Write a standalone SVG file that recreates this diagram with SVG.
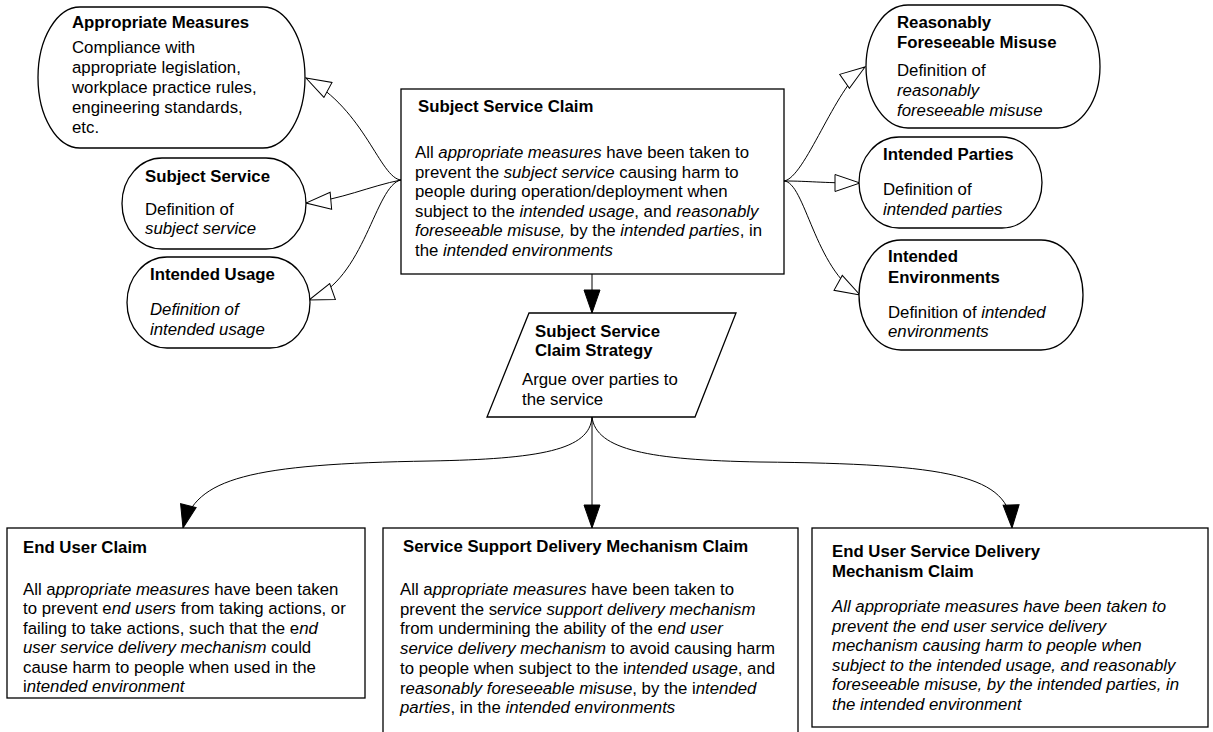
<svg xmlns="http://www.w3.org/2000/svg" width="1213" height="732" viewBox="0 0 1213 732">
<style>
text{font-family:"Liberation Sans",Arial,sans-serif;font-size:16.8px;fill:#000}
.t{font-weight:bold}
.i{font-style:italic}
.box{fill:#fff;stroke:#000;stroke-width:1.3}
.c{fill:none;stroke:#000;stroke-width:1}
.ca{marker-end:url(#hollow)}
.cf{marker-end:url(#solid)}
</style>
<defs>
<marker id="hollow" markerUnits="userSpaceOnUse" markerWidth="27" markerHeight="19" refX="25" refY="8.5" orient="auto" viewBox="-1 -1 27 19">
<path d="M0,0 L25,8.5 L0,17 z" fill="#fff" stroke="#000" stroke-width="1"/>
</marker>
<marker id="solid" markerUnits="userSpaceOnUse" markerWidth="25" markerHeight="18" refX="23" refY="8" orient="auto" viewBox="-1 -1 25 18">
<path d="M0,0 L23,8 L0,16 z" fill="#000" stroke="#000" stroke-width="1"/>
</marker>
</defs>

<g id="connectors">
<path class="c ca" d="M401,180 C380,178 365,110 306,78"/>
<path class="c ca" d="M401,180 C370,186 340,200 306,203"/>
<path class="c ca" d="M401,180 C375,185 365,280 309,300"/>
<path class="c ca" d="M784,181 C805,178 835,88 865,67"/>
<path class="c ca" d="M784,181 C810,181 820,183 860,183"/>
<path class="c ca" d="M784,181 C805,182 815,270 860,295"/>
<path class="c cf" d="M592,274 L592,313"/>
<path class="c cf" d="M592,417 C590,450 540,459 430,461 C250,464 195,478 183,528"/>
<path class="c cf" d="M592,417 L592,528"/>
<path class="c cf" d="M592,417 C596,450 650,460 760,462 C950,464 1010,475 1012,528"/>
</g>

<g id="appropriate-measures">
<rect class="box" x="38" y="7" width="267" height="141" rx="42" ry="70.5"/>
<text class="t" x="72" y="28">Appropriate Measures</text>
<text x="72" y="53">Compliance with</text>
<text x="72" y="73">appropriate legislation,</text>
<text x="72" y="93">workplace practice rules,</text>
<text x="72" y="113">engineering standards,</text>
<text x="72" y="133">etc.</text>
</g>

<g id="subject-service">
<rect class="box" x="122" y="158" width="184" height="91" rx="40" ry="45.5"/>
<text class="t" x="145" y="182">Subject Service</text>
<text x="145" y="215">Definition of</text>
<text class="i" x="145" y="234">subject service</text>
</g>

<g id="intended-usage">
<rect class="box" x="127" y="257" width="183" height="91" rx="40" ry="45.5"/>
<text class="t" x="150" y="280">Intended Usage</text>
<text class="i" x="150" y="315">Definition of</text>
<text class="i" x="150" y="335">intended usage</text>
</g>

<g id="subject-service-claim">
<rect class="box" x="401" y="89" width="383" height="185"/>
<text class="t" x="418" y="112">Subject Service Claim</text>
<text x="415" y="158">All <tspan class="i">appropriate measures</tspan> have been taken to</text>
<text x="415" y="177.5">prevent the <tspan class="i">subject service</tspan> causing harm to</text>
<text x="415" y="197">people during operation/deployment when</text>
<text x="415" y="216.5">subject to the <tspan class="i">intended usage</tspan>, and <tspan class="i">reasonably</tspan></text>
<text x="415" y="236"><tspan class="i">foreseeable misuse,</tspan> by the <tspan class="i">intended parties</tspan>, in</text>
<text x="415" y="255.5">the <tspan class="i">intended environments</tspan></text>
</g>

<g id="reasonably-foreseeable-misuse">
<rect class="box" x="866" y="5" width="234" height="123" rx="42" ry="61.5"/>
<text class="t" x="897" y="28">Reasonably</text>
<text class="t" x="897" y="48">Foreseeable Misuse</text>
<text x="897" y="76">Definition of</text>
<text class="i" x="897" y="96">reasonably</text>
<text class="i" x="897" y="116">foreseeable misuse</text>
</g>

<g id="intended-parties">
<rect class="box" x="859" y="137" width="183" height="91" rx="40" ry="45.5"/>
<text class="t" x="883" y="160">Intended Parties</text>
<text x="883" y="195">Definition of</text>
<text class="i" x="883" y="215">intended parties</text>
</g>

<g id="intended-environments">
<rect class="box" x="859" y="240" width="224" height="110" rx="42" ry="55"/>
<text class="t" x="888" y="262">Intended</text>
<text class="t" x="888" y="283">Environments</text>
<text x="888" y="318">Definition of <tspan class="i">intended</tspan></text>
<text class="i" x="888" y="337">environments</text>
</g>

<g id="strategy">
<polygon class="box" points="529,313 736,313 695,417 487,417"/>
<text class="t" x="535" y="337">Subject Service</text>
<text class="t" x="535" y="356">Claim Strategy</text>
<text x="522" y="385">Argue over parties to</text>
<text x="522" y="405">the service</text>
</g>

<g id="end-user-claim">
<rect class="box" x="7" y="528" width="358" height="170"/>
<text class="t" x="23" y="553">End User Claim</text>
<text x="23" y="595">All a<tspan class="i">ppropriate measures</tspan> have been taken</text>
<text x="23" y="614.4">to prevent e<tspan class="i">nd users</tspan> from taking actions, or</text>
<text x="23" y="633.8">failing to take actions, such that the e<tspan class="i">nd</tspan></text>
<text x="23" y="653.2"><tspan class="i">user service delivery mechanism</tspan> could</text>
<text x="23" y="672.6">cause harm to people when used in the</text>
<text x="23" y="692">i<tspan class="i">ntended environment</tspan></text>
</g>

<g id="service-support-claim">
<rect class="box" x="383" y="528" width="415" height="220"/>
<text class="t" x="403" y="552">Service Support Delivery Mechanism Claim</text>
<text x="400" y="595">All a<tspan class="i">ppropriate measures</tspan> have been taken to</text>
<text x="400" y="614.7">prevent the s<tspan class="i">ervice support delivery mechanism</tspan></text>
<text x="400" y="634.4">from undermining the ability of the e<tspan class="i">nd user</tspan></text>
<text x="400" y="654.1"><tspan class="i">service delivery mechanism</tspan> to avoid causing harm</text>
<text x="400" y="673.8">to people when subject to the i<tspan class="i">ntended usage</tspan>, and</text>
<text x="400" y="693.5">r<tspan class="i">easonably foreseeable misuse</tspan>, by the i<tspan class="i">ntended</tspan></text>
<text x="400" y="713.2"><tspan class="i">parties</tspan>, in the <tspan class="i">intended environments</tspan></text>
</g>

<g id="end-user-service-delivery-claim">
<rect class="box" x="812" y="528" width="396" height="199"/>
<text class="t" x="832" y="557">End User Service Delivery</text>
<text class="t" x="832" y="577">Mechanism Claim</text>
<text class="i" x="832" y="612">All appropriate measures have been taken to</text>
<text class="i" x="832" y="631.5">prevent the end user service delivery</text>
<text class="i" x="832" y="651">mechanism causing harm to people when</text>
<text class="i" x="832" y="670.5">subject to the intended usage, and reasonably</text>
<text class="i" x="832" y="690">foreseeable misuse, by the intended parties, in</text>
<text class="i" x="832" y="709.5">the intended environment</text>
</g>
</svg>
